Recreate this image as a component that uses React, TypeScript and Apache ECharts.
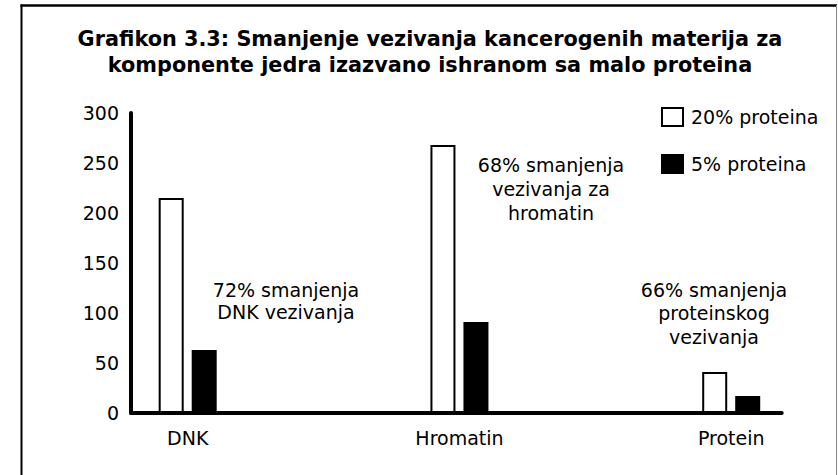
import React, { useEffect, useRef } from "react";
import * as echarts from "echarts";

const categories = ["DNK", "Hromatin", "Protein"];
const seriesNames = ["20% proteina", "5% proteina"];
const highProtein = [215, 268, 41];
const lowProtein = [63, 91, 17];
const yMin = 0;
const yMax = 300;
const yStep = 50;
const titleLines = [
  "Grafikon 3.3: Smanjenje vezivanja kancerogenih materija za",
  "komponente jedra izazvano ishranom sa malo proteina",
];
const notes = [
  ["72% smanjenja", "DNK vezivanja"],
  ["68% smanjenja", "vezivanja za", "hromatin"],
  ["66% smanjenja", "proteinskog", "vezivanja"],
];

const FONT = '"DejaVu Sans", "Liberation Sans", sans-serif';
const W = 838;
const H = 475;

// layout (positions only)
const noteLayout = [
  { x: 286, y: 300.5, lh: 22 },
  { x: 551, y: 189.3, lh: 24 },
  { x: 714, y: 313, lh: 23.5 },
];

export default function App() {
  const ref = useRef<HTMLDivElement>(null);

  useEffect(() => {
    if (!ref.current) return;
    const chart = echarts.init(ref.current, undefined, { renderer: "svg", width: W, height: H });

    const textStyle = (text: string, x: number, y: number, extra: any = {}) => ({
      type: "text",
      silent: true,
      style: {
        text,
        x,
        y,
        fill: "#000",
        fontFamily: FONT,
        fontSize: 19,
        align: "center",
        textAlign: "center",
        verticalAlign: "middle",
        textVerticalAlign: "middle",
        ...extra,
      },
    });

    const graphics: any[] = [
      { type: "line", silent: true, shape: { x1: 21.5, y1: 4.5, x2: 21.5, y2: 475 }, style: { stroke: "#000", lineWidth: 2 } },
      { type: "line", silent: true, shape: { x1: 20.5, y1: 5.5, x2: 837, y2: 5.5 }, style: { stroke: "#000", lineWidth: 2.5 } },
      { type: "line", silent: true, shape: { x1: 836.5, y1: 5, x2: 836.5, y2: 475 }, style: { stroke: "#888", lineWidth: 1 } },
      textStyle(titleLines.join("\n"), 430, 51.5, { fontSize: 20.8, fontWeight: "bold", lineHeight: 26 }),
    ];
    notes.forEach((lines, i) => {
      const l = noteLayout[i];
      graphics.push(textStyle(lines.join("\n"), l.x, l.y, { lineHeight: l.lh }));
    });

    chart.setOption({
      animation: false,
      backgroundColor: "#fff",
      textStyle: { fontFamily: FONT },
      grid: { left: 131, right: 56.3, top: 113, bottom: 62, containLabel: false, outerBoundsMode: "none" },
      legend: {
        orient: "vertical",
        left: 656,
        top: 102,
        itemWidth: 21,
        itemHeight: 18,
        itemGap: 27,
        icon: "rect",
        data: seriesNames,
        textStyle: { fontSize: 19, color: "#000", fontFamily: FONT, lineHeight: 20, padding: [0, 0, 0, 3] },
      },
      xAxis: {
        type: "value",
        min: -0.2086,
        max: 2.1858,
        axisLine: { show: true, onZero: false, lineStyle: { color: "#000", width: 4 } },
        axisTick: { show: false },
        splitLine: { show: false },
        axisLabel: {
          customValues: [0, 1, 2],
          formatter: (v: number) => {
            const r = Math.round(v);
            return Math.abs(v - r) < 1e-6 && categories[r] !== undefined ? categories[r] : "";
          },
          margin: 15,
          fontSize: 19,
          color: "#000",
          fontFamily: FONT,
        },
      },
      yAxis: {
        type: "value",
        min: yMin,
        max: yMax,
        interval: yStep,
        axisLine: { show: true, onZero: false, lineStyle: { color: "#000", width: 4 } },
        axisTick: { show: false },
        splitLine: { show: false },
        axisLabel: { margin: 12, fontSize: 19, color: "#000", fontFamily: FONT },
      },
      series: [
        {
          type: "bar",
          name: seriesNames[0],
          data: highProtein.map((v, i) => [i, v]),
          barWidth: 25,
          barGap: "32%",
          itemStyle: { color: "#fff", borderColor: "#000", borderWidth: 2 },
        },
        {
          type: "bar",
          name: seriesNames[1],
          data: lowProtein.map((v, i) => [i, v]),
          barWidth: 25,
          barGap: "32%",
          itemStyle: { color: "#000", borderColor: "#000", borderWidth: 2 },
        },
      ],
      graphic: graphics,
    });

    return () => chart.dispose();
  }, []);

  return (
    <div
      ref={ref}
      style={{ position: "fixed", left: 0, top: 0, width: W, height: H, background: "#fff" }}
    />
  );
}
